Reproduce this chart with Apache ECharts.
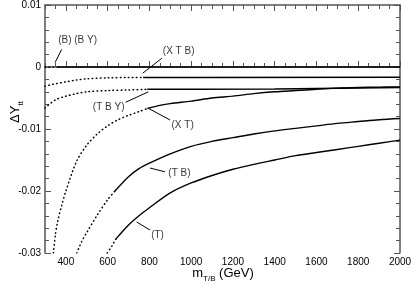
<!DOCTYPE html>
<html>
<head>
<meta charset="utf-8">
<script src="https://cdn.jsdelivr.net/npm/echarts@6/dist/echarts.min.js"></script>
<style>html,body{margin:0;padding:0;background:#fff;}#c{width:412px;height:284px;}</style>
</head>
<body>
<div id="c"></div>
<script>
// ---- data (x = m_T/B in GeV, y = ΔY_tt) ----
const B_DOTTED   = [[300,0],[360,0]];
const B_SOLID    = [[360,0],[2000,0]];
const XTB_DOTTED = [[300,-0.0031],[350,-0.0027],[400,-0.0024],[450,-0.0021],[500,-0.0019],[600,-0.00175],[700,-0.0017],[770,-0.0017]];
const XTB_SOLID  = [[770,-0.0017],[1000,-0.0017],[1000,-0.00165],[2000,-0.00165]];
const TBY_DOTTED = [[300,-0.0066],[350,-0.0053],[400,-0.0047],[450,-0.0043],[500,-0.0040],[600,-0.0038],[700,-0.0037],[790,-0.0036]];
const TBY_SOLID  = [[790,-0.0036],[1000,-0.0036],[1000,-0.00355],[1400,-0.00355],[1400,-0.0034],[2000,-0.0033]];
const XT_DOTTED  = [[340,-0.0300],[350,-0.0270],[360,-0.0250],[380,-0.0223],[400,-0.0200],[450,-0.0153],[500,-0.0126],[550,-0.0108],[600,-0.0095],[650,-0.0085],[700,-0.0078],[750,-0.0072],[790,-0.0067]];
const XT_SOLID   = [[790,-0.0067],[850,-0.0062],[900,-0.0059],[1000,-0.0055],[1100,-0.0050],[1200,-0.0047],[1300,-0.0043],[1400,-0.0040],[1500,-0.0038],[1600,-0.0036],[1700,-0.0034],[1800,-0.0033],[1900,-0.00325],[2000,-0.0032]];
const TB_DOTTED  = [[452,-0.0300],[475,-0.0282],[500,-0.0267],[550,-0.0239],[600,-0.0214],[635,-0.0200]];
const TB_SOLID   = [[635,-0.0200],[700,-0.0177],[750,-0.0164],[800,-0.0155],[900,-0.0140],[1000,-0.0128],[1100,-0.0120],[1200,-0.0114],[1300,-0.0108],[1400,-0.0103],[1500,-0.0099],[1600,-0.0095],[1700,-0.0091],[1800,-0.0088],[1900,-0.0085],[2000,-0.0083]];
const T_DOTTED   = [[598,-0.0300],[620,-0.0289],[638,-0.0278]];
const T_SOLID    = [[638,-0.0278],[700,-0.0255],[750,-0.0240],[800,-0.0227],[900,-0.0203],[1000,-0.0187],[1100,-0.0175],[1200,-0.0165],[1300,-0.0157],[1400,-0.0150],[1500,-0.0143],[1600,-0.0138],[1700,-0.0133],[1800,-0.0128],[1900,-0.0123],[2000,-0.0118]];

const X_TICKS = [400,600,800,1000,1200,1400,1600,1800,2000];
// annotations: label text, label position, arrow start, arrow tip
const LABELS      = ['(B) (B Y)','(X T B)','(T B Y)','(X T)','(T B)','(T)'];
const LABEL_POS   = [[456,0.00435],[940,0.00247],[605,-0.00645],[959,-0.00935],[944,-0.01715],[839,-0.0271]];
const ARROW_FROM  = [[380,0.00285],[859,0.0014],[686,-0.0057],[899,-0.00855],[875,-0.0169],[803,-0.0263]];
const ARROW_TO    = [[348,0.0007],[768,-0.0010],[795,-0.0040],[795,-0.00666],[803,-0.0163],[739,-0.0250]];

const FONT = '"Liberation Sans", Arial, Helvetica, sans-serif';
const AX = '#555';

function lineSeries(data, dotted, smooth) {
  return {
    type: 'line', data: data, xAxisIndex: 0, yAxisIndex: 0,
    showSymbol: false, symbol: 'none', smooth: smooth ? 0.3 : false,
    lineStyle: dotted ? {color: '#000', width: 1.5, type: [0.6, 3.4], cap: 'round'} : {color: '#000', width: 1.4},
    silent: true, animation: false, z: 3
  };
}

const xBase = {type: 'value', min: 300, max: 2000, splitLine: {show: false}};
const chart = echarts.init(document.getElementById('c'), null, {renderer: 'canvas'});
chart.setOption({
  animation: false,
  backgroundColor: '#fff',
  grid: {left: 45, right: 12, top: 5, bottom: 31, outerBoundsMode: 'none'},
  xAxis: [
    Object.assign({}, xBase, {position: 'bottom', interval: 50,
      axisLine: {show: true, lineStyle: {color: AX, width: 1.5}},
      axisTick: {show: true, inside: true, length: 4, lineStyle: {color: AX, width: 1}},
      axisLabel: {show: true, margin: 4, color: '#000', fontSize: 10, fontFamily: FONT,
        formatter: v => (v % 200 === 0 ? String(v) : '')}}),
    Object.assign({}, xBase, {position: 'bottom',
      axisLine: {show: false},
      axisTick: {show: true, inside: true, length: 6, customValues: X_TICKS, lineStyle: {color: AX, width: 1}},
      axisLabel: {show: false}}),
    Object.assign({}, xBase, {position: 'top', interval: 50,
      axisLine: {show: true, lineStyle: {color: AX, width: 1.5}},
      axisTick: {show: true, inside: true, length: 4, lineStyle: {color: AX, width: 1}},
      axisLabel: {show: false}}),
    Object.assign({}, xBase, {position: 'top',
      axisLine: {show: false},
      axisTick: {show: true, inside: true, length: 6, customValues: X_TICKS, lineStyle: {color: AX, width: 1}},
      axisLabel: {show: false}})
  ],
  yAxis: [
    {type: 'value', position: 'left', min: -0.03, max: 0.01, interval: 0.01, splitLine: {show: false},
      axisLine: {show: true, lineStyle: {color: AX, width: 1.5}},
      axisTick: {show: true, inside: true, length: 6, lineStyle: {color: AX, width: 1}},
      minorTick: {show: true, splitNumber: 5, length: 4, lineStyle: {color: AX, width: 1}},
      minorSplitLine: {show: false},
      axisLabel: {show: true, margin: 4, color: '#000', fontSize: 10, fontFamily: FONT,
        formatter: v => (Math.abs(v) < 1e-9 ? '0' : String(+v.toFixed(2)))}},
    {type: 'value', position: 'right', min: -0.03, max: 0.01, interval: 0.01, splitLine: {show: false},
      axisLine: {show: true, lineStyle: {color: AX, width: 1.5}},
      axisTick: {show: true, inside: true, length: 6, lineStyle: {color: AX, width: 1}},
      minorTick: {show: true, splitNumber: 5, length: 4, lineStyle: {color: AX, width: 1}},
      minorSplitLine: {show: false},
      axisLabel: {show: false}}
  ],
  series: [
    lineSeries(B_DOTTED, true, false), lineSeries(B_SOLID, false, false),
    lineSeries(XTB_DOTTED, true, true), lineSeries(XTB_SOLID, false, false),
    lineSeries(TBY_DOTTED, true, true), lineSeries(TBY_SOLID, false, false),
    lineSeries(XT_DOTTED, true, true), lineSeries(XT_SOLID, false, true),
    lineSeries(TB_DOTTED, true, true), lineSeries(TB_SOLID, false, true),
    lineSeries(T_DOTTED, true, true), lineSeries(T_SOLID, false, true),
    {
      type: 'scatter', xAxisIndex: 0, yAxisIndex: 0, silent: true, animation: false, z: 5,
      symbolSize: 1, itemStyle: {color: 'rgba(0,0,0,0)'},
      data: LABELS.map((t, i) => ({name: t, value: LABEL_POS[i]})),
      label: {show: true, position: 'inside', formatter: p => p.name, color: '#000', fontSize: 10, fontFamily: FONT},
      markLine: {
        silent: true, animation: false, symbol: ['none', 'arrow'], symbolSize: [0, 7],
        label: {show: false}, emphasis: {disabled: true},
        lineStyle: {color: '#000', width: 1, type: 'solid'},
        data: ARROW_FROM.map((a, i) => [{coord: a}, {coord: ARROW_TO[i]}])
      }
    }
  ],
  graphic: [
    {type: 'text', x: 223, y: 272, style: {
      text: '{m|m}{s|T/B}{m| (GeV)}', align: 'center', verticalAlign: 'middle',
      rich: {m: {fontSize: 13, fontFamily: FONT, fill: '#000', verticalAlign: 'bottom', lineHeight: 15},
             s: {fontSize: 8, fontFamily: FONT, fill: '#000', verticalAlign: 'bottom', lineHeight: 11, padding: [0,0,-3,0]}}
    }},
    {type: 'text', x: 14, y: 112, rotation: Math.PI / 2, style: {
      text: '{m|ΔY}{s|tt}', align: 'center', verticalAlign: 'middle',
      rich: {m: {fontSize: 13, fontFamily: FONT, fill: '#000', verticalAlign: 'bottom', lineHeight: 15},
             s: {fontSize: 8, fontFamily: FONT, fill: '#000', verticalAlign: 'bottom', lineHeight: 11, padding: [0,0,-3,0]}}
    }}
  ]
});
</script>
</body>
</html>
